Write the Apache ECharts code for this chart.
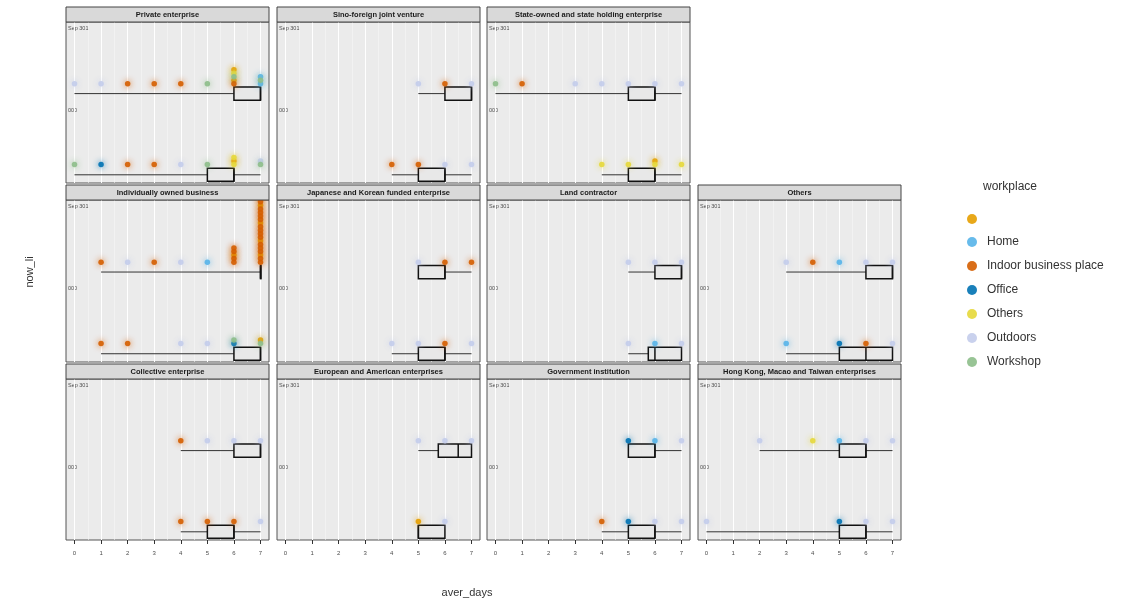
<!DOCTYPE html>
<html>
<head>
<meta charset="utf-8">
<script src="https://cdn.jsdelivr.net/npm/echarts@6/dist/echarts.min.js"></script>
<style>
html, body { margin: 0; padding: 0; background: #fff; }
#main { width: 1128px; height: 603px; }
</style>
</head>
<body>
<div id="main"></div>
<script>
// workplace categories (first one has an empty label in the legend)
var workplaces = ['NA', 'Home', 'Indoor business place', 'Office', 'Others', 'Outdoors', 'Workshop'];
var wpColors = ['#E69F00', '#56B4E9', '#D55E00', '#0072B2', '#E6D83A', '#C3CCEB', '#8DBE8A'];

var facetNames = [
    'Private enterprise', 'Sino-foreign joint venture', 'State-owned and state holding enterprise',
    'Individually owned business', 'Japanese and Korean funded enterprise', 'Land contractor', 'Others',
    'Collective enterprise', 'European and American enterprises', 'Government institution',
    'Hong Kong, Macao and Taiwan enterprises'
];
var yLevels = ['Sep 301', '000'];
var xTicks = [0, 1, 2, 3, 4, 5, 6, 7];

// boxplot stats [min, q1, median, q3, max] for the two now_li levels
var boxTop = [
    [0, 6, 7, 7, 7], [5, 6, 7, 7, 7], [0, 5, 6, 6, 7],
    [1, 7, 7, 7, 7], [5, 5, 6, 6, 7], [5, 6, 7, 7, 7], [3, 6, 7, 7, 7],
    [4, 6, 7, 7, 7], [5, 5.75, 6.5, 7, 7], [5, 5, 6, 6, 7], [2, 5, 6, 6, 7]
];
var boxLow = [
    [0, 5, 6, 6, 7], [4, 5, 6, 6, 7], [4, 5, 6, 6, 7],
    [1, 6, 7, 7, 7], [4, 5, 6, 6, 7], [5, 5.75, 6, 7, 7], [3, 5, 6, 7, 7],
    [4, 5, 6, 6, 7], [5, 5, 5, 6, 6], [4, 5, 6, 6, 7], [0, 5, 6, 6, 7]
];

// dots [aver_days, workplace index]
var dotsTop = [
    [[0,5],[1,5],[2,2],[3,2],[4,2],[5,6],[6,2],[6,0],[6,6],[6,4],[6,0],[7,1],[7,6],[7,1]],
    [[5,5],[6,2],[7,5]],
    [[0,6],[1,2],[3,5],[4,5],[5,5],[6,5],[7,5]],
    [[1,2],[2,5],[3,2],[4,5],[5,1],[6,2],[6,2],[6,0],[6,2],[6,2],
     [7,2],[7,2],[7,0],[7,2],[7,2],[7,2],[7,0],[7,2],[7,2],[7,2],[7,2],[7,0],[7,2],[7,2],[7,2],[7,2],[7,0],[7,2],[7,2],[7,2]],
    [[5,5],[6,2],[7,2]],
    [[5,5],[6,5],[7,5]],
    [[3,5],[4,2],[5,1],[6,5],[7,5]],
    [[4,2],[5,5],[6,5],[7,5]],
    [[5,5],[6,5],[7,5]],
    [[5,3],[6,1],[7,5]],
    [[2,5],[4,4],[5,1],[6,5],[7,5]]
];
var dotsLow = [
    [[0,6],[1,3],[2,2],[3,2],[4,5],[5,6],[6,4],[6,0],[6,4],[7,6],[7,5]],
    [[4,2],[5,2],[6,5],[7,5]],
    [[4,4],[5,4],[6,4],[6,0],[7,4]],
    [[1,2],[2,2],[4,5],[5,5],[6,3],[6,6],[7,6],[7,0]],
    [[4,5],[5,5],[6,2],[7,5]],
    [[5,5],[6,1],[7,5]],
    [[3,1],[5,3],[6,2],[7,5]],
    [[4,2],[5,2],[6,2],[7,5]],
    [[5,0],[6,5]],
    [[4,2],[5,3],[6,5],[7,5]],
    [[0,5],[5,3],[6,5],[7,5]]
];

// facet layout
var facetPos = [[0,0],[0,1],[0,2],[1,0],[1,1],[1,2],[1,3],[2,0],[2,1],[2,2],[2,3]];
var colLeft = [66, 277, 487, 698];
var panelW = 203;
var stripTop = [7, 185, 364];
var stripH = 15;
var panelBottom = [183, 362, 540];
var inset = 8.5;
var yMin = 0.927, yMax = 2.89;
var FONT = 'Liberation Sans, Arial, sans-serif';

var myChart = echarts.init(document.getElementById('main'));

var grids = [], xAxes = [], yAxes = [], series = [], graphics = [];

facetNames.forEach(function (name, i) {
    var r = facetPos[i][0], c = facetPos[i][1];
    var top = stripTop[r] + stripH;
    var h = panelBottom[r] - top;
    var bottomRow = (r == 2);

    // outer grid: panel background, border, y labels
    grids.push({ left: colLeft[c], top: top, width: panelW, height: h, show: true,
        backgroundColor: '#EBEBEB', borderColor: '#555', borderWidth: 1 });
    xAxes.push({ gridIndex: 2 * i, type: 'value', min: 0, max: 1, show: false });
    yAxes.push({ gridIndex: 2 * i, type: 'value', inverse: true, min: yMin, max: yMax,
        axisLine: { show: false }, axisTick: { show: false }, splitLine: { show: false },
        axisLabel: { show: true, inside: true, margin: 2, customValues: [1, 2], fontSize: 5.5,
            color: '#4d4d4d', fontFamily: FONT,
            formatter: function (v) { return yLevels[Math.round(v) - 1] || ''; } } });

    // inner grid: data
    grids.push({ left: colLeft[c] + inset, top: top, width: panelW - 2 * inset, height: h });
    xAxes.push({ gridIndex: 2 * i + 1, type: 'value', min: 0, max: 7, interval: 1, z: 1,
        axisLine: { show: false },
        axisTick: { show: bottomRow, length: 4, lineStyle: { color: '#333' } },
        axisLabel: { show: bottomRow, fontSize: 6, color: '#4d4d4d', margin: 10, fontFamily: FONT,
            formatter: function (v) { return xTicks.indexOf(v) >= 0 ? String(v) : ''; } },
        splitLine: { show: true, lineStyle: { color: '#fff', width: 1 } },
        minorTick: { show: false, splitNumber: 2 },
        minorSplitLine: { show: true, lineStyle: { color: '#f7f7f7', width: 0.6 } } });
    yAxes.push({ gridIndex: 2 * i + 1, type: 'value', inverse: true, min: yMin, max: yMax, show: false });

    // strip
    graphics.push({ type: 'rect', shape: { x: colLeft[c], y: stripTop[r], width: panelW, height: stripH },
        style: { fill: '#D9D9D9', stroke: '#444', lineWidth: 1 }, z: 10 });
    graphics.push({ type: 'text', x: colLeft[c] + panelW / 2, y: stripTop[r] + stripH / 2 + 0.5, z: 11,
        style: { text: name, fill: '#1a1a1a', font: 'bold 7.5px ' + FONT, align: 'center', verticalAlign: 'middle' } });

    // boxes
    series.push({
        type: 'custom', xAxisIndex: 2 * i + 1, yAxisIndex: 2 * i + 1, z: 3, clip: false,
        data: [boxTop[i].concat([1.8]), boxLow[i].concat([2.79])],
        renderItem: function (params, api) {
            var y = api.value(5);
            var pLo = api.coord([api.value(0), y]);
            var p1 = api.coord([api.value(1), y]);
            var pm = api.coord([api.value(2), y]);
            var p3 = api.coord([api.value(3), y]);
            var pHi = api.coord([api.value(4), y]);
            var hh = Math.abs(api.coord([0, y + 0.08])[1] - p1[1]);
            return { type: 'group', children: [
                { type: 'line', shape: { x1: pLo[0], y1: pLo[1], x2: p1[0], y2: p1[1] }, style: { stroke: '#333', lineWidth: 1 } },
                { type: 'line', shape: { x1: p3[0], y1: p3[1], x2: pHi[0], y2: pHi[1] }, style: { stroke: '#333', lineWidth: 1 } },
                { type: 'rect', shape: { x: p1[0], y: p1[1] - hh, width: Math.max(p3[0] - p1[0], 0.5), height: 2 * hh },
                  style: { fill: '#E8E8E8', stroke: '#111', lineWidth: 1.5 } },
                { type: 'line', shape: { x1: pm[0], y1: pm[1] - hh, x2: pm[0], y2: pm[1] + hh }, style: { stroke: '#111', lineWidth: 1.5 } }
            ] };
        }
    });

    // dots, stacked upward at each day value
    var perWp = workplaces.map(function () { return []; });
    [[dotsTop[i], 1.68], [dotsLow[i], 2.665]].forEach(function (g) {
        var count = {};
        g[0].forEach(function (d) {
            var k = count[d[0]] || 0;
            count[d[0]] = k + 1;
            perWp[d[1]].push([d[0], g[1] - k * 0.043]);
        });
    });
    perWp.forEach(function (pts, w) {
        series.push({
            type: 'scatter', name: workplaces[w], xAxisIndex: 2 * i + 1, yAxisIndex: 2 * i + 1,
            data: pts, symbolSize: 5.5, z: 4, clip: false,
            itemStyle: { color: wpColors[w], opacity: 0.9, shadowBlur: 6, shadowColor: wpColors[w] }
        });
    });
});

var option = {
    animation: false,
    textStyle: { fontFamily: FONT },
    grid: grids,
    xAxis: xAxes,
    yAxis: yAxes,
    legend: {
        data: workplaces, orient: 'vertical', left: 957, top: 209, itemGap: 12,
        icon: 'circle', itemWidth: 20, itemHeight: 10, selectedMode: false,
        textStyle: { fontSize: 12, color: '#333', fontFamily: FONT },
        formatter: function (n) { return n == 'NA' ? '' : n; }
    },
    graphic: graphics.concat([
        { type: 'text', x: 1010, y: 187, style: { text: 'workplace', fill: '#333', font: '12px ' + FONT, align: 'center', verticalAlign: 'middle' } },
        { type: 'text', x: 467, y: 593, style: { text: 'aver_days', fill: '#333', font: '11px ' + FONT, align: 'center', verticalAlign: 'middle' } },
        { type: 'text', x: 30, y: 272, rotation: Math.PI / 2, style: { text: 'now_li', fill: '#333', font: '11px ' + FONT, align: 'center', verticalAlign: 'middle' } }
    ]),
    series: series
};

myChart.setOption(option);
</script>
</body>
</html>
